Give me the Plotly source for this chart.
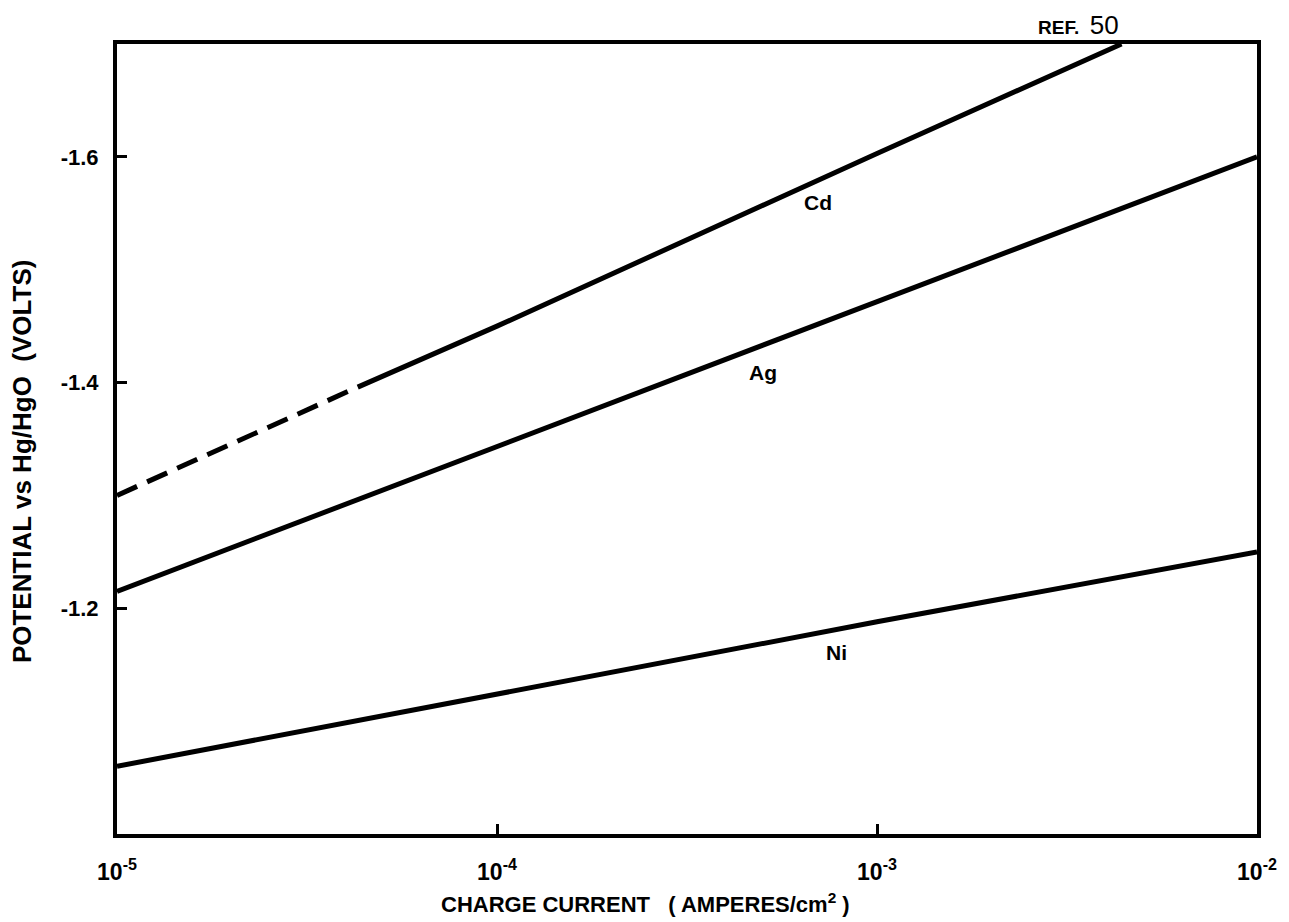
import numpy as np
import plotly.graph_objects as go

# ---- data ----
cd_dash_current = [1e-5, 4.3e-5]
cd_dash_potential = [-1.300, -1.396]
cd_current = [4.3e-5, 1e-4, 1e-3, 4.4e-3]
cd_potential = [-1.396, -1.450, -1.603, -1.700]
ag_current = [1e-5, 1e-4, 1e-3, 1e-2]
ag_potential = [-1.215, -1.343, -1.471, -1.600]
ni_current = [1e-5, 1e-4, 1e-3, 1e-2]
ni_potential = [-1.060, -1.124, -1.188, -1.250]

x_tickvals = [1e-5, 1e-4, 1e-3, 1e-2]
x_ticktext = ["10<sup>-5</sup>", "10<sup>-4</sup>", "10<sup>-3</sup>", "10<sup>-2</sup>"]
y_tickvals = [-1.6, -1.4, -1.2]
y_ticktext = ["-1.6", "-1.4", "-1.2"]

labels = ["Cd", "Ag", "Ni"]
label_current = [7.0e-4, 5.0e-4, 7.8e-4]
label_potential = [-1.560, -1.409, -1.161]

FONT = "Liberation Sans, Arial, sans-serif"
LW = 5

fig = go.Figure()
fig.add_trace(go.Scatter(x=cd_dash_current, y=cd_dash_potential, mode="lines",
                         line=dict(color="black", width=LW, dash="22px,11px"),
                         showlegend=False, hoverinfo="skip"))
fig.add_trace(go.Scatter(x=cd_current, y=cd_potential, mode="lines",
                         line=dict(color="black", width=LW),
                         showlegend=False, hoverinfo="skip"))
fig.add_trace(go.Scatter(x=ag_current, y=ag_potential, mode="lines",
                         line=dict(color="black", width=LW),
                         showlegend=False, hoverinfo="skip"))
fig.add_trace(go.Scatter(x=ni_current, y=ni_potential, mode="lines",
                         line=dict(color="black", width=LW),
                         showlegend=False, hoverinfo="skip"))

for t, cx, cy in zip(labels, label_current, label_potential):
    fig.add_annotation(x=np.log10(cx), y=cy, text=t, showarrow=False,
                       font=dict(family=FONT, size=21, color="black", weight="bold"))

fig.add_annotation(xref="paper", yref="paper", x=0.881, y=1.0, yanchor="bottom",
                   yshift=2, showarrow=False,
                   text="<b>REF.</b>  <span style='font-size:26px'>50</span>",
                   font=dict(family=FONT, size=19, color="black"))

# axis titles (placed as annotations to match the reference offsets)
fig.add_annotation(xref="paper", yref="paper", x=0.464, y=0, yanchor="middle",
                   yshift=-69, showarrow=False,
                   text="CHARGE CURRENT   ( AMPERES/cm<sup>2</sup> )",
                   font=dict(family=FONT, size=22, color="black", weight="bold"))
fig.add_annotation(xref="paper", yref="paper", x=0, y=0.472, xanchor="center",
                   xshift=-95, showarrow=False, textangle=-90,
                   text="POTENTIAL vs Hg/HgO  (VOLTS)",
                   font=dict(family=FONT, size=26, color="black", weight="bold"))

fig.update_xaxes(type="log", range=[-5, -2], tickvals=x_tickvals, ticktext=x_ticktext,
                 showline=True, mirror=True, linecolor="black", linewidth=4,
                 ticks="inside", ticklen=10, tickwidth=3, tickcolor="black",
                 showgrid=False, zeroline=False, ticklabelstandoff=14,
                 tickfont=dict(family=FONT, size=23, color="black", weight="bold"))
fig.update_yaxes(range=[-1.0, -1.7], tickvals=y_tickvals, ticktext=y_ticktext,
                 showline=True, mirror=True, linecolor="black", linewidth=4,
                 ticks="inside", ticklen=10, tickwidth=3, tickcolor="black",
                 showgrid=False, zeroline=False, ticklabelstandoff=10,
                 tickfont=dict(family=FONT, size=22, color="black", weight="bold"))

fig.update_layout(width=1289, height=922, paper_bgcolor="white", plot_bgcolor="white",
                  margin=dict(l=117, r=28, t=44, b=88), showlegend=False)

fig.write_html("out.html", config={"displayModeBar": False},
               post_script="document.body.style.margin='0';document.body.style.overflow='hidden';")
